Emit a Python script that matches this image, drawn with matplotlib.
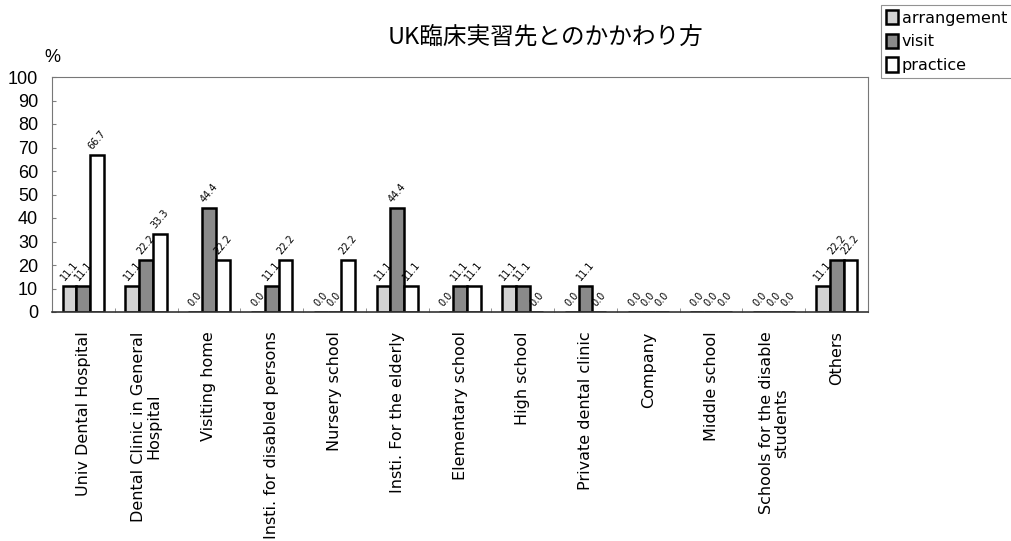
import matplotlib.pyplot as plt
import numpy as np

plt.rcParams['font.family'] = ['Noto Sans CJK JP', 'DejaVu Sans']

# Data
categories = ['Univ Dental Hospital', 'Dental Clinic in General\nHospital', 'Visiting home',
              'Insti. for disabled persons', 'Nursery school', 'Insti. For the elderly',
              'Elementary school', 'High school', 'Private dental clinic', 'Company',
              'Middle school', 'Schools for the disable\nstudents', 'Others']
arrangement = [11.1, 11.1, 0.0, 0.0, 0.0, 11.1, 0.0, 11.1, 0.0, 0.0, 0.0, 0.0, 11.1]
visit = [11.1, 22.2, 44.4, 11.1, 0.0, 44.4, 11.1, 11.1, 11.1, 0.0, 0.0, 0.0, 22.2]
practice = [66.7, 33.3, 22.2, 22.2, 22.2, 11.1, 11.1, 0.0, 0.0, 0.0, 0.0, 0.0, 22.2]
series_names = ['arrangement', 'visit', 'practice']
series_colors = ['#d2d2d2', '#8a8a8a', 'white']

fig = plt.figure(figsize=(10.12, 5.41), dpi=100)
fig.patch.set_facecolor('white')
ax = fig.add_axes([52/1012, 1 - 312/541, 816/1012, 235/541])

x = np.arange(len(categories))
w = 0.22
for i, (vals, name, col) in enumerate(zip([arrangement, visit, practice], series_names, series_colors)):
    pos = x + (i - 1) * w
    ax.bar(pos, vals, width=w, color=col, edgecolor='black', linewidth=1.8, label=name)
    for px, v in zip(pos, vals):
        ax.text(px, v + 1.5, '%.1f' % v, rotation=50, ha='center', va='bottom', fontsize=7,
                family='DejaVu Sans')

ax.set_xlim(-0.5, len(categories) - 0.5)
ax.set_ylim(0, 100)
ax.set_yticks(range(0, 101, 10))
ax.set_yticklabels([str(v) for v in range(0, 101, 10)], family='Liberation Sans', fontsize=13)
ax.tick_params(axis='y', direction='in', length=3, color='gray', pad=10)
ax.set_xticks(x)
ax.set_xticklabels(categories, rotation=90, fontsize=11.5, va='top', ha='center',
                   linespacing=1.0, family='DejaVu Sans')
ax.tick_params(axis='x', length=0, pad=14)
ax.set_xticks(np.arange(-0.5, len(categories), 1), minor=True)
ax.tick_params(axis='x', which='minor', direction='in', length=3, color='gray')
for s in ax.spines.values():
    s.set_color('#777777')
    s.set_linewidth(0.8)
ax.spines['bottom'].set_color('#333333')
ax.spines['bottom'].set_linewidth(1.2)

fig.text(546/1012, 1 - 37/541, 'UK臨床実習先とのかかわり方', fontsize=17, ha='center', va='center')
fig.text(52/1012, 1 - 57/541, '%', fontsize=13, ha='center', va='center', family='Liberation Sans')

leg = fig.legend(loc='upper right', bbox_to_anchor=(1.0, 0.99),
                 prop={'family': 'DejaVu Sans', 'size': 11.5},
                 handlelength=0.75, handleheight=1.0, handletextpad=0.25,
                 borderpad=0.3, labelspacing=0.5, fancybox=False, frameon=True,
                 borderaxespad=0.0)
leg.get_frame().set_edgecolor('#777777')
leg.get_frame().set_linewidth(0.8)

fig.savefig('out.png', dpi=100, facecolor='white')
